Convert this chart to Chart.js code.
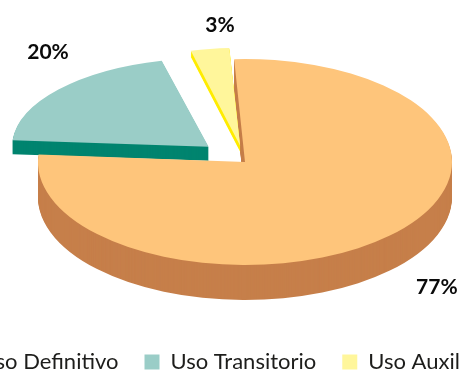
<!DOCTYPE html>
<html>
<head>
<meta charset="utf-8">
<script src="https://cdn.jsdelivr.net/npm/chart.js@4.4.1/dist/chart.umd.min.js"></script>
<style>
  html, body { margin: 0; padding: 0; background: #fff; }
  #frame { position: relative; width: 459px; height: 370px; overflow: hidden; }
  #usoChart { position: absolute; left: -91px; top: 0; }
</style>
</head>
<body>
<div id="frame">
  <canvas id="usoChart" width="620" height="383"></canvas>
</div>
<script>
// datos del gráfico
const categorias = ['Uso Definitivo', 'Uso Transitorio', 'Uso Auxiliar'];
const porcentajes = [77, 20, 3];

// colores: cara superior y lateral de cada porción
const coloresCara = ['#FEC57B', '#9ACDC7', '#FFF69B'];
const coloresLado = ['#C67F4A', '#00846F', '#FFEC00'];

const SHIFT = 91;            // desplazamiento del lienzo hacia la izquierda
const CX = 245 + SHIFT, CY = 162;
const RX = 207, RY = 103;    // elipse de la tarta en perspectiva
const explosion = [0, 0.23, 0.16];
const lejania = [[1, 1], [0.95, 0.86], [1, 0.95]];   // las porciones del fondo se ven algo menores
const grosor = [35, 14, 6];
const etiquetaR = [[1.325, 1.70], [1.246, 1.656], [0.827, 1.345]];

// posiciona un arco en la elipse, con su separación y un desplazamiento vertical
function colocar(ctx, el, i, dy) {
    const R = el.outerRadius;
    const mid = (el.startAngle + el.endAngle) / 2;
    const ex = Math.cos(mid) * explosion[i] * RX;
    const ey = Math.sin(mid) * explosion[i] * RY;
    ctx.translate(CX + ex, CY + ey + dy);
    ctx.scale(RX / R * lejania[i][0], RY / R * lejania[i][1]);
    ctx.translate(-el.x, -el.y);
}

const tarta3d = {
    id: 'tarta3d',
    beforeDatasetsDraw: (chart) => {
        const ctx = chart.ctx;
        const arcos = chart.getDatasetMeta(0).data;

        // laterales: copias apiladas del arco con el color oscuro
        arcos.forEach((el, i) => {
            const orig = el.options;
            el.options = Object.assign({}, orig, { backgroundColor: coloresLado[i], borderWidth: 0 });
            for (let k = grosor[i]; k > 0; k--) {
                ctx.save();
                colocar(ctx, el, i, k);
                el.draw(ctx);
                ctx.restore();
            }
            el.options = orig;
        });

        // caras superiores
        arcos.forEach((el, i) => {
            ctx.save();
            colocar(ctx, el, i, 0);
            el.draw(ctx);
            ctx.restore();
        });
        return false;
    },
    afterDraw: (chart) => {
        const ctx = chart.ctx;
        const arcos = chart.getDatasetMeta(0).data;
        const total = porcentajes.reduce((a, b) => a + b, 0);
        ctx.save();
        ctx.font = 'bold 21px Lato';
        ctx.fillStyle = '#0a0a0a';
        ctx.textAlign = 'center';
        ctx.textBaseline = 'middle';
        arcos.forEach((el, i) => {
            const mid = (el.startAngle + el.endAngle) / 2;
            const x = CX + Math.cos(mid) * RX * etiquetaR[i][0];
            const y = CY + Math.sin(mid) * RY * etiquetaR[i][1];
            ctx.fillText(Math.round(porcentajes[i] / total * 100) + '%', x, y);
        });
        ctx.restore();
    }
};

const ctx = document.getElementById('usoChart').getContext('2d');
const myChart = new Chart(ctx, {
    type: 'pie',
    data: {
        labels: categorias,
        datasets: [{
            data: porcentajes,
            backgroundColor: coloresCara,
            borderWidth: 0,
            clip: false
        }]
    },
    options: {
        responsive: false,
        animation: false,
        rotation: -3,
        layout: { padding: 0 },
        plugins: {
            legend: {
                position: 'bottom',
                labels: {
                    boxWidth: 15,
                    boxHeight: 15,
                    padding: 26,
                    color: '#1d1d1b',
                    font: { family: 'Lato', size: 22 }
                }
            },
            tooltip: { enabled: false }
        }
    },
    plugins: [tarta3d]
});
</script>
</body>
</html>
